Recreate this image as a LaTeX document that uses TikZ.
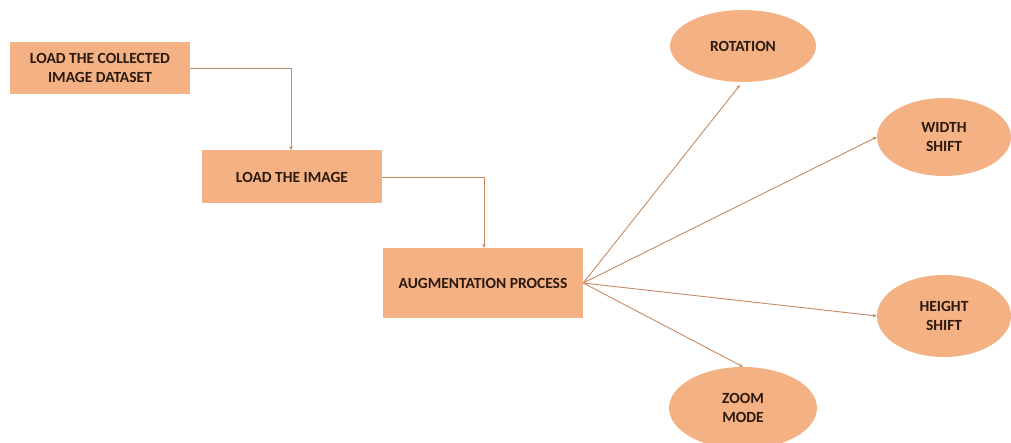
\documentclass[tikz,border=0pt]{standalone}
\usepackage{fontspec}
\setmainfont{Carlito}
\usetikzlibrary{shapes.geometric,arrows.meta}
\definecolor{peach}{HTML}{F4B183}
\definecolor{linkc}{HTML}{C48B62}
\definecolor{inkc}{HTML}{2A1A10}
\tikzset{
  x=1pt, y=-1pt,
  stepbox/.style={rectangle, fill=peach, inner sep=0pt, align=center,
    font=\bfseries\fontsize{15.5}{19}\selectfont, text=inkc},
  opbubble/.style={ellipse, fill=peach, inner sep=0pt, align=center,
    font=\bfseries\fontsize{15.5}{19}\selectfont, text=inkc},
  link/.style={draw=linkc, line width=0.9pt, -{Stealth[length=4pt,width=3.5pt]}},
}
\begin{document}
\begin{tikzpicture}
\useasboundingbox (0,0) rectangle (1011,443);
% process steps
\node[stepbox, minimum width=180pt, minimum height=52pt] (load) at (100,68) {LOAD THE COLLECTED\\IMAGE DATASET};
\node[stepbox, minimum width=180pt, minimum height=53pt] (img) at (292,177) {LOAD THE IMAGE};
\node[stepbox, minimum width=200pt, minimum height=70pt] (aug) at (483,283) {AUGMENTATION PROCESS};
% augmentation operations
\node[opbubble, minimum width=146pt, minimum height=72pt] (rot) at (743,46) {ROTATION};
\node[opbubble, minimum width=134pt, minimum height=78pt] (wid) at (944,137) {WIDTH\\SHIFT};
\node[opbubble, minimum width=134pt, minimum height=82pt] (hei) at (944,316) {HEIGHT\\SHIFT};
\node[opbubble, minimum width=148pt, minimum height=82pt] (zoom) at (743,408) {ZOOM\\MODE};
% flow between steps
\draw[link] (load.east) -| (img.north -| 291,0);
\draw[link] (img.east) -| (aug.north -| 484,0);
% fan out to the operations
\draw[link] (aug.east) -- (740,85);
\draw[link] (aug.east) -- (wid.west);
\draw[link] (aug.east) -- (hei.west);
\draw[link] (aug.east) -- (zoom.north);
\end{tikzpicture}
\end{document}
